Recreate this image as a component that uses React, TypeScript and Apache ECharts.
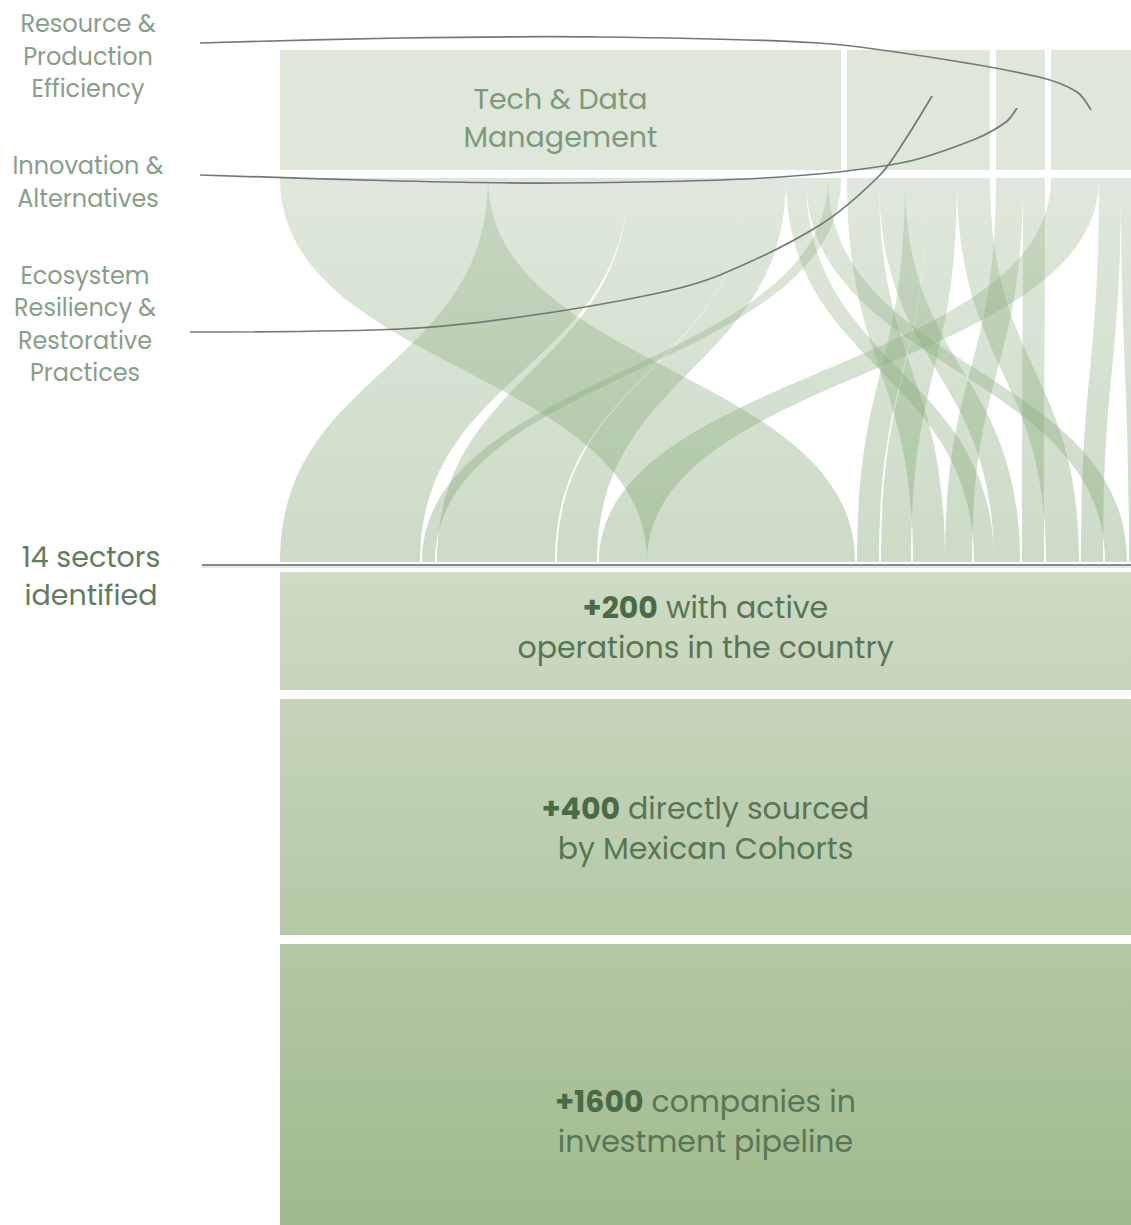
import React, { useEffect, useRef } from "react";
import * as echarts from "echarts";

// ---------------- data ----------------
const categories = [
  "Tech & Data Management",
  "Ecosystem Resiliency & Restorative Practices",
  "Innovation & Alternatives",
  "Resource & Production Efficiency",
];
const categoryLines = [
  ["Tech & Data", "Management"],
  ["Ecosystem", "Resiliency &", "Restorative", "Practices"],
  ["Innovation &", "Alternatives"],
  ["Resource &", "Production", "Efficiency"],
];
const sectors = [
  "Sector 1", "Sector 2", "Sector 3", "Sector 4", "Sector 5", "Sector 6", "Sector 7",
  "Sector 8", "Sector 9", "Sector 10", "Sector 11", "Sector 12", "Sector 13", "Sector 14",
];
// links in source order (left to right inside each category)
const linkSource = [0, 0, 0, 0, 0, 0, 0, 1, 1, 1, 1, 1, 2, 2, 3, 3, 3];
const linkTarget = [4, 0, 2, 3, 8, 12, 1, 7, 8, 5, 6, 10, 7, 9, 4, 11, 13];
const linkValue = [208, 140, 118, 40, 20, 22, 13, 32, 26, 22, 30, 33, 27, 22, 48, 22, 40];
// order of each link inside its target sector (0 = leftmost)
const linkTargetSlot = [1, 0, 0, 0, 0, 0, 0, 0, 1, 0, 0, 0, 1, 0, 0, 0, 0];

const funnelValues = [200, 400, 1600];
const funnelFirstLine = [" with active", " directly sourced", " companies in"];
const funnelSecondLine = ["operations in the country", "by Mexican Cohorts", "investment pipeline"];

// ---------------- layout / style constants ----------------
const W = 1131;
const H = 1225;
const PLOT_LEFT = 280;
const NODE_TOP = 50;
const NODE_BOTTOM = 170;
const RIBBON_TOP = 178;
const RIBBON_BOTTOM = 562;
const TOP_GAP = 6;
const BOTTOM_GAP = 2;
const SEP_Y = 565;
const FUNNEL_TOP = 572;
const FUNNEL_GAP = 9;
const FUNNEL_SCALE = 0.59;
const FONT = "Poppins, Inter, 'Noto Sans', sans-serif";

function computeLayout() {
  const catWidth = categories.map((_, c) =>
    linkValue.reduce((s, v, i) => (linkSource[i] === c ? s + v : s), 0)
  );
  const catStart: number[] = [];
  let acc = 0;
  catWidth.forEach((w, c) => {
    catStart[c] = acc;
    acc += w + TOP_GAP;
  });
  const cursor = catStart.slice();
  const sx0: number[] = [];
  linkValue.forEach((v, i) => {
    sx0[i] = cursor[linkSource[i]];
    cursor[linkSource[i]] += v;
  });

  const secWidth = sectors.map((_, s) =>
    linkValue.reduce((sum, v, i) => (linkTarget[i] === s ? sum + v : sum), 0)
  );
  const secStart: number[] = [];
  acc = 0;
  secWidth.forEach((w, s) => {
    secStart[s] = acc;
    acc += w + BOTTOM_GAP;
  });
  const tx0: number[] = [];
  sectors.forEach((_, s) => {
    const inc = linkValue
      .map((_, i) => i)
      .filter((i) => linkTarget[i] === s)
      .sort((a, b) => linkTargetSlot[a] - linkTargetSlot[b]);
    let c = secStart[s];
    inc.forEach((i) => {
      tx0[i] = c;
      c += linkValue[i];
    });
  });
  return { catWidth, catStart, sx0, tx0 };
}

export default function App() {
  const ref = useRef<HTMLDivElement>(null);

  useEffect(() => {
    document.body.style.margin = "0";
    if (!ref.current) return;
    const chart = echarts.init(ref.current, undefined, { renderer: "svg" });
    const { catWidth, catStart, sx0, tx0 } = computeLayout();

    const nodeData = categories.map((name, c) => ({
      name,
      value: [catStart[c], catStart[c] + catWidth[c], c],
    }));
    const linkData = linkValue.map((v, i) => ({
      name: categories[linkSource[i]] + " → " + sectors[linkTarget[i]],
      value: [sx0[i], sx0[i] + v, tx0[i], tx0[i] + v, v],
    }));
    const funnelTops: number[] = [];
    let fy = FUNNEL_TOP;
    funnelValues.forEach((v, i) => {
      funnelTops[i] = fy;
      fy += v * FUNNEL_SCALE + FUNNEL_GAP;
    });
    const funnelData = funnelValues.map((v, i) => ({
      name: "+" + v,
      value: [0, W - PLOT_LEFT, funnelTops[i], funnelTops[i] + v * FUNNEL_SCALE, v, i],
    }));

    const ribbonFill = new echarts.graphic.LinearGradient(0, 0, 0, 1, [
      { offset: 0, color: "rgba(140,172,128,0.28)" },
      { offset: 1, color: "rgba(130,168,116,0.41)" },
    ]);

    const labelColor = "#87a085";
    const leader = { stroke: "#6f7b76", lineWidth: 1.7, fill: null };
    const sideLabel = (lines: string[], x: number, y: number) => ({
      type: "text",
      x,
      y,
      style: {
        text: lines.join("\n"),
        fill: labelColor,
        fontSize: 24,
        lineHeight: 32.2,
        fontFamily: FONT,
        align: "center",
        verticalAlign: "middle",
      },
    });

    const option: any = {
      animation: false,
      grid: { left: PLOT_LEFT, right: 0, top: 0, bottom: 0 },
      xAxis: { type: "value", min: 0, max: W - PLOT_LEFT, show: false },
      yAxis: { type: "value", min: 0, max: H, inverse: true, show: false },
      series: [
        {
          type: "custom",
          name: "categories",
          data: nodeData,
          renderItem: (params: any, api: any) => {
            const x0 = api.value(0);
            const x1 = api.value(1);
            const c = api.value(2);
            const p0 = api.coord([x0, NODE_TOP]);
            const p1 = api.coord([x1, NODE_BOTTOM]);
            const children: any[] = [
              {
                type: "rect",
                shape: { x: p0[0], y: p0[1], width: p1[0] - p0[0], height: p1[1] - p0[1] },
                style: { fill: "#dfe7db" },
              },
            ];
            if (p1[0] - p0[0] > 300) {
              children.push({
                type: "text",
                x: (p0[0] + p1[0]) / 2,
                y: (p0[1] + p1[1]) / 2 + 8,
                style: {
                  text: categoryLines[c].join("\n"),
                  fill: "#7d9a79",
                  fontSize: 28.5,
                  lineHeight: 38.3,
                  fontFamily: FONT,
                  align: "center",
                  verticalAlign: "middle",
                },
              });
            }
            return { type: "group", children };
          },
        },
        {
          type: "custom",
          name: "links",
          data: linkData,
          renderItem: (params: any, api: any) => {
            const a = api.coord([api.value(0), RIBBON_TOP]);
            const b = api.coord([api.value(1), RIBBON_TOP]);
            const c = api.coord([api.value(2), RIBBON_BOTTOM]);
            const d = api.coord([api.value(3), RIBBON_BOTTOM]);
            const yT = a[1];
            const yB = c[1];
            const ym = (yT + yB) / 2;
            const pathData =
              `M${a[0]},${yT} C${a[0]},${ym} ${c[0]},${ym} ${c[0]},${yB} ` +
              `L${d[0]},${yB} C${d[0]},${ym} ${b[0]},${ym} ${b[0]},${yT} Z`;
            return {
              type: "path",
              shape: { pathData },
              style: { fill: ribbonFill },
            };
          },
        },
        {
          type: "custom",
          name: "funnel",
          data: funnelData,
          renderItem: (params: any, api: any) => {
            const p0 = api.coord([api.value(0), api.value(2)]);
            const p1 = api.coord([api.value(1), api.value(3)]);
            const v = api.value(4);
            const i = api.value(5);
            const h = p1[1] - p0[1];
            const visBottom = Math.min(p1[1], H);
            const visH = visBottom - p0[1];
            const frac = 0.47 + 0.08 * i;
            const fill = new echarts.graphic.LinearGradient(
              0, FUNNEL_TOP, 0, H,
              [
                { offset: 0, color: "#cedbc5" },
                { offset: 1, color: "#9fba8c" },
              ],
              true
            );
            return {
              type: "group",
              children: [
                {
                  type: "rect",
                  shape: { x: p0[0], y: p0[1], width: p1[0] - p0[0], height: h },
                  style: { fill },
                },
                {
                  type: "text",
                  x: (p0[0] + p1[0]) / 2,
                  y: p0[1] + visH * frac,
                  style: {
                    text: `{b|+${v}}${funnelFirstLine[i]}\n${funnelSecondLine[i]}`,
                    fill: "#587656",
                    fontSize: 30,
                    lineHeight: 40,
                    fontFamily: FONT,
                    align: "center",
                    verticalAlign: "middle",
                    rich: {
                      b: {
                        fontWeight: "bold",
                        fill: "#4a6b47",
                        fontSize: 30,
                        lineHeight: 40,
                        fontFamily: FONT,
                      },
                    },
                  },
                },
              ],
            };
          },
        },
      ],
      graphic: [
        sideLabel(categoryLines[3], 88, 56),
        sideLabel(categoryLines[2], 88, 182),
        sideLabel(categoryLines[1], 85, 324),
        {
          type: "text",
          x: 91,
          y: 576,
          style: {
            text: `${sectors.length} sectors\nidentified`,
            fill: "#5f7d5c",
            fontSize: 28.5,
            lineHeight: 38.3,
            fontFamily: FONT,
            align: "center",
            verticalAlign: "middle",
          },
        },
        // leader lines
        {
          type: "polyline",
          shape: {
            points: [[200, 43], [400, 38], [600, 37], [819, 43], [929, 57], [1039, 77], [1077, 92], [1091, 110]],
            smooth: 0.3,
          },
          style: leader,
          z: 10,
        },
        {
          type: "polyline",
          shape: {
            points: [[200, 175], [400, 181], [560, 183], [764, 178], [901, 163], [973, 140], [1006, 122], [1017, 108]],
            smooth: 0.3,
          },
          style: leader,
          z: 10,
        },
        {
          type: "polyline",
          shape: {
            points: [[190, 332], [400, 329], [520, 317], [654, 294], [720, 275], [820, 225], [880, 175], [905, 140], [932, 96]],
            smooth: 0.3,
          },
          style: leader,
          z: 10,
        },
        // separator under the sectors
        {
          type: "line",
          shape: { x1: 202, y1: SEP_Y, x2: W, y2: SEP_Y },
          style: { stroke: "#7f8e88", lineWidth: 2 },
          z: 10,
        },
        {
          type: "line",
          shape: { x1: 202, y1: SEP_Y + 2, x2: W, y2: SEP_Y + 2 },
          style: { stroke: "#c8d0cc", lineWidth: 1 },
          z: 10,
        },
      ],
    };
    chart.setOption(option);
    return () => chart.dispose();
  }, []);

  return <div ref={ref} style={{ width: W, height: H, background: "#ffffff" }} />;
}
